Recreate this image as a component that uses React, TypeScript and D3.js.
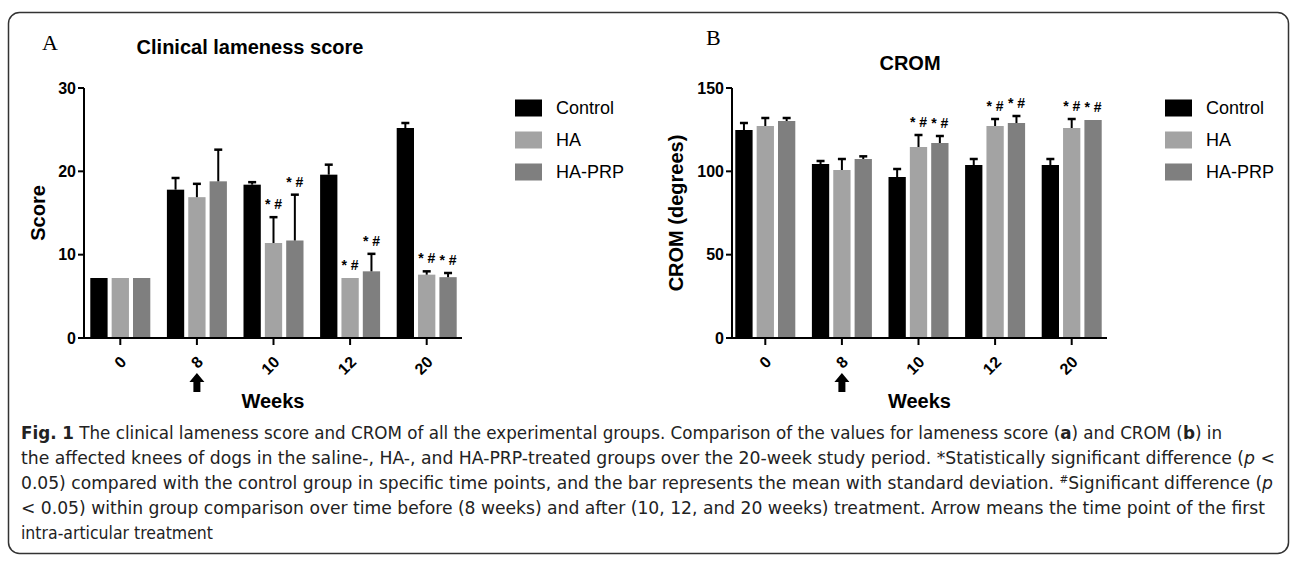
import React from 'react'
import * as d3 from 'd3'

// tick labels / categories
const weeks = ['0', '8', '10', '12', '20']
const groups = ['Control', 'HA', 'HA-PRP']
const colors = ['#000000', '#a3a3a3', '#7f7f7f']

// panel A - clinical lameness score (mean, sd)
const lamenessControl = [7.2, 17.8, 18.4, 19.6, 25.2]
const lamenessControlSd = [0, 1.4, 0.3, 1.2, 0.6]
const lamenessHA = [7.2, 16.9, 11.4, 7.2, 7.6]
const lamenessHASd = [0, 1.6, 3.1, 0, 0.4]
const lamenessHAPRP = [7.2, 18.8, 11.7, 8.0, 7.3]
const lamenessHAPRPSd = [0, 3.8, 5.5, 2.1, 0.5]
const lamenessSig = [
  [false, false, false, false, false],
  [false, false, true, true, true],
  [false, false, true, true, true],
]
const lamenessTicks = [0, 10, 20, 30]

// panel B - CROM in degrees (mean, sd)
const cromControl = [124.8, 104.4, 96.6, 103.8, 103.8]
const cromControlSd = [4.2, 1.8, 4.8, 3.6, 3.6]
const cromHA = [127.2, 100.8, 114.6, 127.2, 126.0]
const cromHASd = [4.8, 6.6, 7.2, 4.2, 5.4]
const cromHAPRP = [130.2, 107.4, 117.0, 129.0, 130.8]
const cromHAPRPSd = [1.8, 1.6, 4.2, 4.2, 0]
const cromSig = [
  [false, false, false, false, false],
  [false, false, true, true, true],
  [false, false, true, true, true],
]
const cromTicks = [0, 50, 100, 150]

const arial = 'Arial, "Liberation Sans", Helvetica, sans-serif'

function Panel({ x0, x1, axisX, yMax, ticks, means, sds, sig, title, titleX, titleY, letter, letterX, letterY, yTitle, yTitleX, legendX }) {
  const top = 88
  const bottom = 338
  const y = d3.scaleLinear().domain([0, yMax]).range([bottom, top])
  const xBand = d3.scaleBand().domain(weeks).range([x0, x1]).padding(0)
  const sub = d3.scaleBand().domain(groups).range([-30, 30]).paddingInner(0.19).paddingOuter(0)
  const cx = (w) => xBand(w) + xBand.bandwidth() / 2
  const axisEnd = x1 - 3
  const midX = (axisX + axisEnd) / 2

  return (
    <g>
      <text x={letterX} y={letterY} fontFamily='"Liberation Serif", "Times New Roman", serif' fontSize={22}>{letter}</text>
      <text x={titleX} y={titleY} textAnchor="middle" fontFamily={arial} fontWeight="bold" fontSize={20}>{title}</text>

      {/* bars */}
      {groups.map((g, gi) => weeks.map((w, wi) => {
        const v = means[gi][wi]
        const sd = sds[gi][wi]
        const bx = cx(w) + sub(g)
        const bw = sub.bandwidth()
        const mid = bx + bw / 2
        return (
          <g key={g + w}>
            <rect x={bx} y={y(v)} width={bw} height={bottom - y(v)} fill={colors[gi]} />
            {sd > 0 && (
              <g stroke="#000" strokeWidth={2}>
                <line x1={mid} x2={mid} y1={y(v)} y2={y(v + sd)} />
                <line x1={mid - 4} x2={mid + 4} y1={y(v + sd)} y2={y(v + sd)} strokeWidth={2.5} />
              </g>
            )}
            {sig[gi][wi] && (
              <text x={mid} y={y(v + sd) - 8} textAnchor="middle" fontFamily={arial} fontWeight="bold" fontSize={14}>* #</text>
            )}
          </g>
        )
      }))}

      {/* y axis */}
      <line x1={axisX} x2={axisX} y1={top} y2={bottom} stroke="#000" strokeWidth={2} />
      {ticks.map(t => (
        <g key={t} transform={`translate(${axisX} ${y(t)})`}>
          <line x1={-6} x2={0} stroke="#000" strokeWidth={2} />
          <text x={-8} dy="0.36em" textAnchor="end" fontFamily={arial} fontWeight="bold" fontSize={16}>{t}</text>
        </g>
      ))}
      <text transform={`translate(${yTitleX} ${(top + bottom) / 2}) rotate(-90)`} textAnchor="middle" dy="0.36em" fontFamily={arial} fontWeight="bold" fontSize={20}>{yTitle}</text>

      {/* x axis */}
      <line x1={axisX - 1} x2={axisEnd} y1={bottom} y2={bottom} stroke="#000" strokeWidth={2} />
      {weeks.map(w => (
        <g key={w} transform={`translate(${cx(w)} ${bottom})`}>
          <line y1={0} y2={7} stroke="#000" strokeWidth={2} />
          <text transform="translate(3 21) rotate(-45)" textAnchor="end" dy="0.36em" fontFamily={arial} fontWeight="bold" fontSize={16}>{w}</text>
        </g>
      ))}
      {/* arrow under week 8: first treatment */}
      <path transform={`translate(${cx('8')} 373)`} d="M0 0 L7.5 9 L3.5 9 L3.5 19 L-3.5 19 L-3.5 9 L-7.5 9 Z" fill="#000" />
      <text x={midX} y={408} textAnchor="middle" fontFamily={arial} fontWeight="bold" fontSize={20}>Weeks</text>

      {/* legend */}
      {groups.map((g, gi) => (
        <g key={g} transform={`translate(${legendX} ${108 + gi * 32})`}>
          <rect x={0} y={-8.5} width={27} height={17} fill={colors[gi]} />
          <text x={41} dy="0.36em" fontFamily={arial} fontSize={18}>{g}</text>
        </g>
      ))}
    </g>
  )
}

const capFont = '"Liberation Sans Narrow", "DejaVu Sans Condensed", "Roboto Condensed", Arial, sans-serif'

function Caption() {
  const x = 21
  const y0 = 439
  const dy = 25
  const common = { x, fontFamily: capFont, fontSize: 18, fill: '#222', lengthAdjust: 'spacingAndGlyphs' }
  return (
    <g>
      <text {...common} y={y0} textLength={1201}>
        <tspan fontWeight="bold">Fig. 1</tspan> The clinical lameness score and CROM of all the experimental groups. Comparison of the values for lameness score (<tspan fontWeight="bold">a</tspan>) and CROM (<tspan fontWeight="bold">b</tspan>) in
      </text>
      <text {...common} y={y0 + dy} textLength={1254}>
        the affected knees of dogs in the saline-, HA-, and HA-PRP-treated groups over the 20-week study period. *Statistically significant difference (<tspan fontStyle="italic">p</tspan> &lt;
      </text>
      <text {...common} y={y0 + dy * 2} textLength={1252}>
        0.05) compared with the control group in specific time points, and the bar represents the mean with standard deviation. <tspan fontSize={11} dy={-6}>#</tspan><tspan dy={6}>Significant difference (</tspan><tspan fontStyle="italic">p</tspan>
      </text>
      <text {...common} y={y0 + dy * 3} textLength={1244}>
        &lt; 0.05) within group comparison over time before (8 weeks) and after (10, 12, and 20 weeks) treatment. Arrow means the time point of the first
      </text>
      <text {...common} y={y0 + dy * 4} textLength={192}>intra-articular treatment</text>
    </g>
  )
}

export default function App() {
  return (
    <svg width={1296} height={561} style={{ position: 'absolute', left: 0, top: 0, background: '#fff' }}>
      <rect x={8.5} y={12.5} width={1280} height={541} rx={11} fill="#fff" stroke="#333" strokeWidth={1.5} />
      <Panel
        x0={82} x1={465} axisX={84} yMax={30} ticks={lamenessTicks}
        means={[lamenessControl, lamenessHA, lamenessHAPRP]}
        sds={[lamenessControlSd, lamenessHASd, lamenessHAPRPSd]}
        sig={lamenessSig}
        title="Clinical lameness score" titleX={250} titleY={54}
        letter="A" letterX={42} letterY={50}
        yTitle="Score" yTitleX={38} legendX={515}
      />
      <Panel
        x0={727} x1={1110} axisX={732} yMax={150} ticks={cromTicks}
        means={[cromControl, cromHA, cromHAPRP]}
        sds={[cromControlSd, cromHASd, cromHAPRPSd]}
        sig={cromSig}
        title="CROM" titleX={910} titleY={70}
        letter="B" letterX={706} letterY={45}
        yTitle="CROM (degrees)" yTitleX={676} legendX={1165}
      />
      <Caption />
    </svg>
  )
}
